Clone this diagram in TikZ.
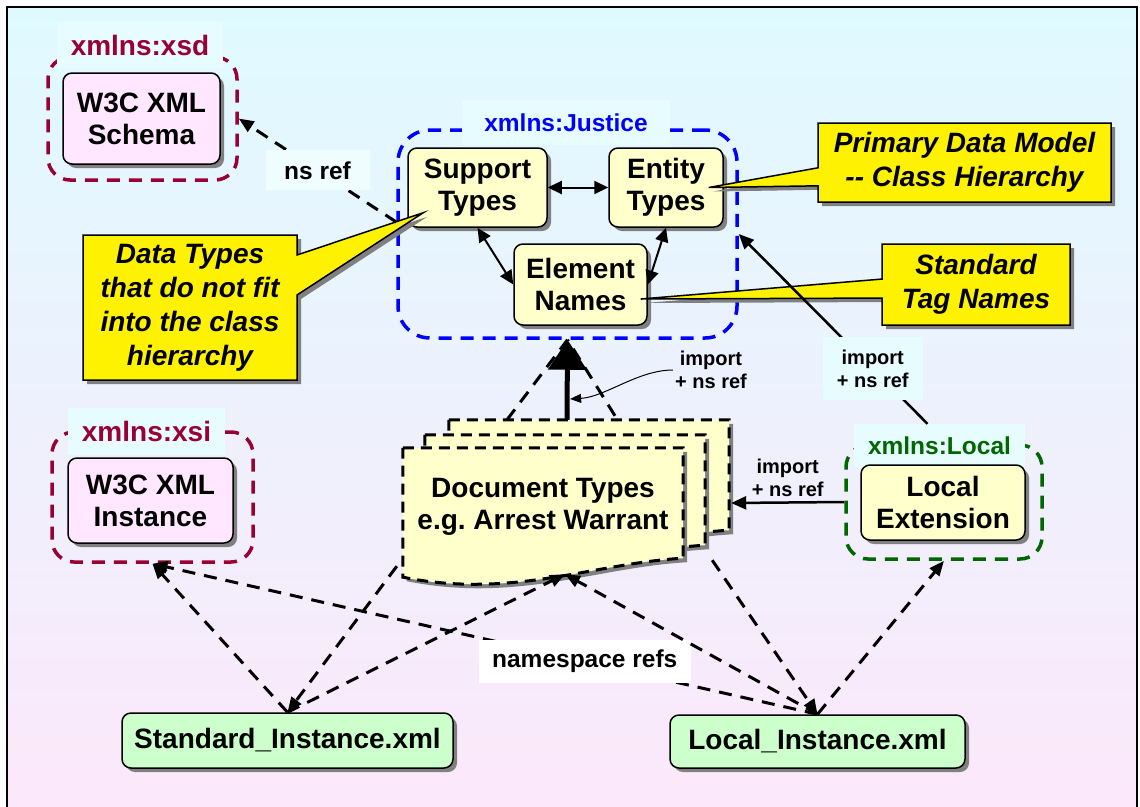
\documentclass[tikz,border=0pt]{standalone}
\usepackage{fontspec}
\setmainfont{Liberation Sans}
\usetikzlibrary{arrows.meta,shadows,shapes.callouts,calc}

\definecolor{bgtop}{RGB}{223,250,255}
\definecolor{bgbottom}{RGB}{252,232,250}
\definecolor{labelbg}{RGB}{230,252,255}
\definecolor{xsdred}{RGB}{153,0,51}
\definecolor{localgreen}{RGB}{0,102,0}
\definecolor{pinkfill}{RGB}{255,232,255}
\definecolor{creamfill}{RGB}{255,255,204}
\definecolor{greenfill}{RGB}{204,255,204}

\newcommand{\boxfont}{\fontsize{28}{32}\selectfont\bfseries}
\newcommand{\notefont}{\fontsize{28}{34}\selectfont\bfseries\itshape}
\newcommand{\nsfont}{\fontsize{24.5}{28}\selectfont\bfseries}
\newcommand{\impfont}{\fontsize{20}{23}\selectfont\bfseries}

\tikzset{
  shade/.style={drop shadow={shadow xshift=4pt, shadow yshift=-4pt, fill=black!50, opacity=1}},
  nsframe/.style={draw=#1, line width=3.5pt, dash pattern=on 13pt off 9pt, rounded corners=22pt},
  nslabel/.style={fill=labelbg, text=#1, font=\nsfont, inner sep=0pt},
  box/.style={draw, line width=1.5pt, fill=#1, rounded corners=9pt, align=center,
    inner sep=0pt, font=\boxfont, shade},
  note/.style={rectangle callout, draw, line width=1.5pt, fill=yellow, align=center,
    inner sep=0pt, font=\notefont, shade},
  page/.style={draw, fill=creamfill, line width=3pt, dash pattern=on 11pt off 7pt, shade},
  refarrow/.style={-{Triangle[length=15pt,width=12pt]}, line width=3pt, dash pattern=on 13pt off 9pt},
  linkarrow/.style={-{Triangle[length=15pt,width=13pt]}, line width=2.5pt},
  twoway/.style={{Triangle[length=14pt,width=13pt]}-{Triangle[length=14pt,width=13pt]}, line width=2pt},
  reftext/.style={font=\nsfont, inner sep=0pt},
  imptext/.style={font=\impfont, align=center, inner sep=2pt},
}

\begin{document}
\begin{tikzpicture}[x=1pt, y=-1pt]
  \useasboundingbox (0,0) rectangle (1140,806);
  % background and frame
  \fill[top color=bgtop, bottom color=bgbottom] (7,7) rectangle (1137,815);
  \draw[line width=2.5pt] (7,815) -- (7,7) -- (1137,7) -- (1137,815);

  % namespaces
  \node[nsframe=xsdred, minimum width=189pt, minimum height=123pt] (xsdns) at (142.5,118.5) {};
  \node[nslabel=xsdred, font=\boxfont, minimum width=166pt, minimum height=46pt] (xsdlabel) at (140,45) {xmlns:xsd};
  \node[nsframe=xsdred, minimum width=201pt, minimum height=130pt] (xsins) at (152.5,497) {};
  \node[nslabel=xsdred, font=\boxfont, minimum width=157pt, minimum height=47pt] (xsilabel) at (146.5,431.5) {xmlns:xsi};
  \node[nsframe=blue, rounded corners=32pt, minimum width=339pt, minimum height=208pt] (jus) at (567.5,234) {};
  \node[nslabel=blue, minimum width=208pt, minimum height=45pt] (juslabel) at (566,122.5) {xmlns:Justice};
  \node[nsframe=localgreen, minimum width=196pt, minimum height=114pt] (locns) at (944,502) {};
  \node[nslabel=localgreen, minimum width=171pt, minimum height=43pt] (loclabel) at (939.5,445.5) {xmlns:Local};

  % schema boxes
  \node[box=pinkfill, minimum width=157pt, minimum height=91pt] (schema) at (141.5,118.5) {W3C XML\\Schema};
  \node[box=pinkfill, minimum width=165pt, minimum height=85pt] (inst) at (150.5,500.5) {W3C XML\\Instance};
  \node[box=creamfill, minimum width=139pt, minimum height=79pt] (sup) at (477.5,187.5) {Support\\Types};
  \node[box=creamfill, minimum width=114pt, minimum height=79pt] (ent) at (666,187.5) {Entity\\Types};
  \node[box=creamfill, minimum width=133pt, minimum height=81pt] (elem) at (580.5,284.5) {Element\\Names};
  \node[box=creamfill, minimum width=164pt, minimum height=75pt] (locext) at (943,502.5) {Local\\Extension};

  \draw[twoway] (sup) -- (ent);
  \draw[twoway] (sup.south) -- (elem.west);
  \draw[twoway] (ent.south) -- (elem.east);

  % callouts
  \node[note, minimum width=214pt, minimum height=145pt, callout pointer width=40pt,
    callout absolute pointer={($(sup.south west)+(16,-15)$)}] (dtnote) at (190,307.5)
    {Data Types\\that do not fit\\into the class\\hierarchy};
  \node[note, minimum width=293pt, minimum height=79pt, callout pointer width=18pt,
    callout absolute pointer={($(ent.east)+(-15,0)$)}] (pdmnote) at (964.5,162.5)
    {Primary Data Model\\{-}{-} Class Hierarchy};
  \node[note, minimum width=188pt, minimum height=81pt, callout pointer width=19pt,
    callout absolute pointer={($(elem.east)+(-7,14.5)$)}] (tagnote) at (976,284.5)
    {Standard\\Tag Names};

  % document stack
  \path node[minimum width=280pt, minimum height=110pt, inner sep=0pt] (doc) at (543,503) {};
  \foreach \dx/\dy in {46/-28, 22/-13, 0/0}
    \draw[page] ([shift={(\dx,\dy)}]doc.north west) -- ([shift={(\dx,\dy)}]doc.north east)
      -- ([shift={(\dx,\dy)}]doc.south east) .. controls +(-90,5) and +(110,22)
      .. ([shift={(\dx,\dy+19)}]doc.south west) -- cycle;
  \node[font=\boxfont, align=center, inner sep=0pt] (doctext) at ([yshift=-4pt]doc.center) {Document Types\\e.g.\ Arrest Warrant};

  \coordinate (doctop) at ([xshift=24pt,yshift=28pt]doc.north);
  \coordinate (doctopl) at ([xshift=-36pt,yshift=28pt]doc.north);
  \coordinate (doctopr) at ([xshift=72pt,yshift=32pt]doc.north);
  \coordinate (docleft) at ([xshift=-6pt,yshift=-8pt]doc.south west);
  \coordinate (docbot) at ([xshift=22pt,yshift=-16pt]doc.south);
  \coordinate (docright) at ([xshift=29pt,yshift=-2pt]doc.south east);
  \coordinate (docback) at ([xshift=48pt]doc.east);

  % imports
  \draw[line width=3pt, dash pattern=on 13pt off 9pt] (doctopl) -- (jus.south);
  \draw[line width=3pt, dash pattern=on 13pt off 9pt] (doctopr) -- (jus.south);
  \draw[line width=5pt, -{Triangle[length=30pt,width=38pt]}] (doctop) -- coordinate[pos=0.26] (thickmid) (jus.south);
  \node[imptext] (impnote) at (711,370) {import\\+ ns ref};
  \draw[line width=1pt, -{Triangle[length=11pt,width=9pt]}] (impnote.west)
    .. controls +(-35,0) and +(35,-2) .. ([xshift=3pt]thickmid);

  \draw[linkarrow] ([xshift=-12pt]loclabel.north) -- node[imptext, fill=labelbg, minimum width=100pt, minimum height=63pt, pos=0.29] (impjus) {import\\+ ns ref} (jus.east);
  \draw[linkarrow] (locns.west) -- node[imptext, above=3pt] (impdoc) {import\\+ ns ref} (docback);

  \draw[refarrow] (jus.west) ++(0,-12) -- node[reftext, fill=labelbg!60!white, minimum width=104pt, minimum height=40pt] (nsref) {ns ref} (xsdns.east);

  % instance documents
  \node[box=greenfill, minimum width=331pt, minimum height=55pt] (std) at (287.5,740.5) {Standard\_Instance.xml};
  \node[box=greenfill, minimum width=295pt, minimum height=53pt] (loc) at (817.5,741.5) {Local\_Instance.xml};

  \draw[refarrow] (std.north) -- (xsins.south);
  \draw[refarrow] (std.north) -- (docbot);
  \draw[refarrow] (docleft) -- (std.north);
  \draw[refarrow] (loc.north) -- node[reftext, fill=white, minimum width=212pt, minimum height=43pt, pos=0.35] (nsrefs) {namespace refs} (xsins.south);
  \draw[refarrow] (loc.north) -- (docbot);
  \draw[refarrow] (docright) -- (loc.north);
  \draw[refarrow] (loc.north) -- (locns.south);
\end{tikzpicture}
\end{document}
